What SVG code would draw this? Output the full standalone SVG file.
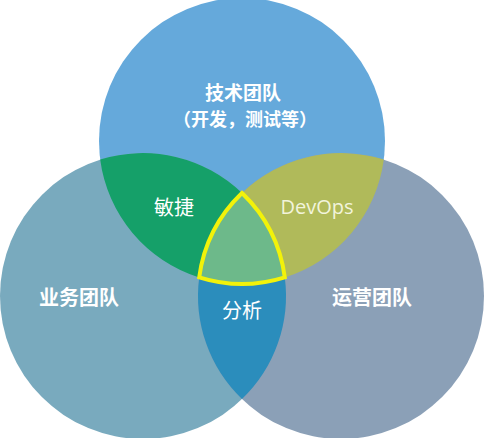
<svg xmlns="http://www.w3.org/2000/svg" width="500" height="438" viewBox="0 0 500 438">
<style>
.t{font-family:"Noto Sans CJK SC","Noto Sans",sans-serif;fill:#ffffff;text-anchor:middle}
.b{font-weight:bold}
</style>
<rect width="500" height="438" fill="#ffffff"/>
<g id="circles">
<g id="tech"><circle cx="242" cy="141" r="143" fill="#65A9DB"/></g>
<g id="biz"><circle cx="143" cy="296" r="143" fill="#79AABE"/></g>
<g id="ops"><circle cx="341" cy="296" r="143" fill="#8BA0B7"/></g>
</g>
<g id="lenses">
<g id="agile"><path d="M100.2,159.6 A143,143 0 0 1 242,193 A143,143 0 0 0 199.2,277.4 A143,143 0 0 1 100.2,159.6 Z" fill="#15A069"/></g>
<g id="devops"><path d="M383.8,159.6 A143,143 0 0 0 242,193 A143,143 0 0 1 284.8,277.4 A143,143 0 0 0 383.8,159.6 Z" fill="#B0BA5A"/></g>
<g id="analysis"><path d="M199.2,277.4 A143,143 0 0 0 242,399 A143,143 0 0 0 284.8,277.4 A143,143 0 0 1 199.2,277.4 Z" fill="#2B8DBC"/></g>
<g id="center"><path d="M242,193 A143,143 0 0 0 199.2,277.4 A143,143 0 0 0 284.8,277.4 A143,143 0 0 0 242,193 Z" fill="#6DB98A" stroke="#F2F20A" stroke-width="4" stroke-linejoin="miter"/></g>
</g>
<g id="labels">
<text class="t b" x="243" y="100" font-size="19">技术团队</text>
<text class="t b" x="245" y="126" font-size="18">（开发，测试等）</text>
<text class="t b" x="79" y="305" font-size="20">业务团队</text>
<text class="t b" x="372" y="305" font-size="20">运营团队</text>
<text class="t" x="174" y="215" font-size="20">敏捷</text>
<text class="t" x="317" y="214" font-size="20" style="font-family:'Open Sans','Liberation Sans',sans-serif;fill:#F2F4DC">DevOps</text>
<text class="t" x="242" y="318" font-size="20">分析</text>
</g>
</svg>
